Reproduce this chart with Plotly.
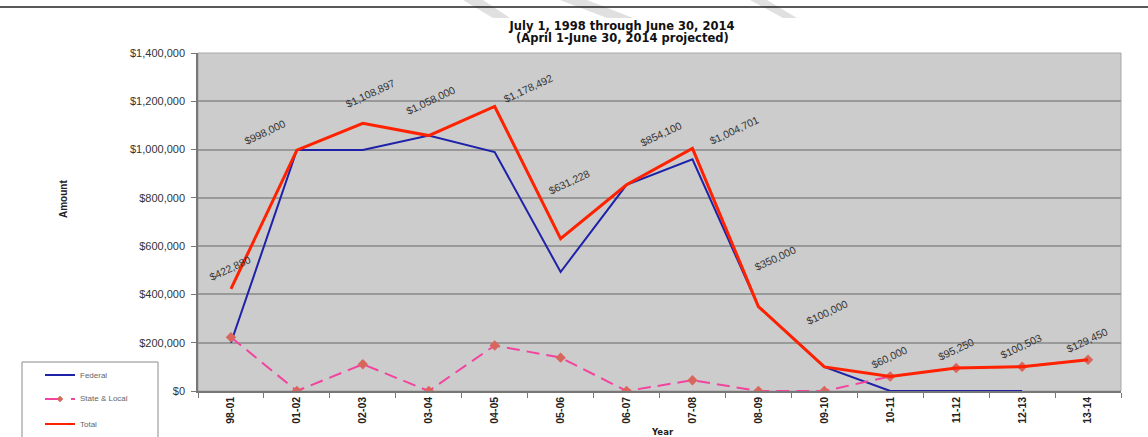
import plotly.graph_objects as go

# ---------------- data ----------------
categories = ["98-01", "01-02", "02-03", "03-04", "04-05", "05-06", "06-07",
              "07-08", "08-09", "09-10", "10-11", "11-12", "12-13", "13-14"]
federal = [200000, 998000, 998000, 1058000, 990000, 493000, 854100,
           960000, 350000, 100000, 0, 0, 0, None]
state_local = [222880, 0, 110897, 0, 188492, 138228, 0,
               44701, 0, 0, 60000, 95250, 100503, 129450]
total = [422880, 998000, 1108897, 1058000, 1178492, 631228, 854100,
         1004701, 350000, 100000, 60000, 95250, 100503, 129450]
y_ticks = [0, 200000, 400000, 600000, 800000, 1000000, 1200000, 1400000]
y_tick_text = [f"${v:,}" for v in y_ticks]
title_line1 = "July 1, 1998 through June 30, 2014"
title_line2 = "(April 1-June 30, 2014 projected)"

# ---------------- style ----------------
W, H = 1148, 437
ML, MR, MT, MB = 198, 27, 53, 46
PW, PH = W - ML - MR, H - MT - MB
FONT = "Liberation Sans, Arial, sans-serif"
WIDE = "DejaVu Sans, Liberation Sans, sans-serif"
BLUE = "#1E22A8"
RED = "#FF2200"
PINK = "#F2449E"
MARK = "#D8665C"

# label offsets (pixels) of the data labels relative to each Total point
label_dx = [-1, -32, 8, 2, 34, 8, 34, 42, 17, 3, -1, 0, -1, -1]
label_dy = [-21, -18, -30, -36, -18, -57, -51, -18, -49, -55, -20, -19, -21, -20]


def px_x(px):
    return (px - ML) / PW


def px_y(py):
    return (H - MB - py) / PH


fig = go.Figure()
fig.add_trace(go.Scatter(x=categories, y=federal, mode="lines", name="Federal",
                         line=dict(color=BLUE, width=2), showlegend=False))
fig.add_trace(go.Scatter(x=categories, y=state_local, mode="lines+markers",
                         name="State & Local",
                         line=dict(color=PINK, width=2, dash="13px,7px"),
                         marker=dict(symbol="diamond", size=8, color=MARK),
                         showlegend=False))
fig.add_trace(go.Scatter(x=categories, y=total, mode="lines", name="Total",
                         line=dict(color=RED, width=3), showlegend=False))

annotations = []
for c, v, dx, dy in zip(categories, total, label_dx, label_dy):
    annotations.append(dict(x=c, y=v, xref="x", yref="y", text=f"${v:,}",
                            showarrow=False, textangle=-25, xshift=dx, yshift=-dy,
                            xanchor="center", yanchor="middle",
                            font=dict(family=FONT, size=10.5, color="#333333")))

# second title line
annotations.append(dict(x=px_x(622), y=px_y(38), xref="paper", yref="paper",
                        text=f"<b>{title_line2}</b>", showarrow=False,
                        xanchor="center", yanchor="middle",
                        font=dict(family=WIDE, size=11.5, color="#111111")))

# axis titles
annotations.append(dict(x=px_x(63), y=px_y(199), xref="paper", yref="paper",
                        text="<b>Amount</b>", textangle=-90, showarrow=False,
                        xanchor="center", yanchor="middle",
                        font=dict(family=FONT, size=10, color="#222222")))
annotations.append(dict(x=px_x(662), y=px_y(432), xref="paper", yref="paper",
                        text="<b>Year</b>", showarrow=False,
                        xanchor="center", yanchor="middle",
                        font=dict(family=WIDE, size=8.5, color="#222222")))

# legend (manual, Excel style box at lower left)
shapes = []
shapes.append(dict(type="rect", xref="paper", yref="paper",
                   x0=px_x(22), x1=px_x(158), y0=px_y(362), y1=px_y(450),
                   line=dict(color="#8A8A8A", width=1), fillcolor="white", layer="above"))
leg_items = [("Federal", 375), ("State & Local", 399), ("Total", 424)]
shapes.append(dict(type="line", xref="paper", yref="paper", x0=px_x(45), x1=px_x(75),
                   y0=px_y(375), y1=px_y(375), line=dict(color=BLUE, width=2)))
shapes.append(dict(type="line", xref="paper", yref="paper", x0=px_x(45), x1=px_x(58),
                   y0=px_y(399), y1=px_y(399), line=dict(color=PINK, width=2)))
shapes.append(dict(type="line", xref="paper", yref="paper", x0=px_x(71), x1=px_x(75),
                   y0=px_y(399), y1=px_y(399), line=dict(color=PINK, width=2)))
dx0, dy0 = px_x(60), px_y(399)
sx, sy = 3 / PW, 3 / PH
shapes.append(dict(type="path", xref="paper", yref="paper",
                   path=f"M {dx0 - sx} {dy0} L {dx0} {dy0 + sy} L {dx0 + sx} {dy0} L {dx0} {dy0 - sy} Z",
                   fillcolor=MARK, line=dict(color=MARK, width=0.5)))
shapes.append(dict(type="line", xref="paper", yref="paper", x0=px_x(45), x1=px_x(75),
                   y0=px_y(424), y1=px_y(424), line=dict(color=RED, width=2)))
for name, yy in leg_items:
    annotations.append(dict(x=px_x(78), y=px_y(yy), xref="paper", yref="paper",
                            text=name, showarrow=False, xanchor="left", yanchor="middle",
                            font=dict(family=FONT, size=8, color="#666666")))

# faint diagonal watermark bands at the very top of the page
for (xt0, xt1, xb0, xb1) in [(463, 483, 493, 510), (560, 587, 607, 633), (750, 767, 783, 797)]:
    shapes.append(dict(type="path", xref="paper", yref="paper", layer="below",
                       path=(f"M {px_x(xt0)} {px_y(0)} L {px_x(xt1)} {px_y(0)} "
                             f"L {px_x(xb1)} {px_y(18)} L {px_x(xb0)} {px_y(18)} Z"),
                       fillcolor="#E0E0E0", line=dict(width=0)))

# page frame line at top
shapes.append(dict(type="line", xref="paper", yref="paper", x0=px_x(0), x1=px_x(W),
                   y0=px_y(7), y1=px_y(7), line=dict(color="#222222", width=1.5)))
# plot border (light)
shapes.append(dict(type="rect", xref="paper", yref="paper", x0=0, x1=1, y0=0, y1=1,
                   line=dict(color="#A8A8A8", width=1), layer="below"))

fig.update_layout(
    width=W, height=H,
    template="none",
    margin=dict(l=ML, r=MR, t=MT, b=MB, pad=0),
    paper_bgcolor="white",
    plot_bgcolor="#CCCCCC",
    showlegend=False,
    title=dict(text=f"<b>{title_line1}</b>",
               x=622 / W, xref="container", xanchor="center",
               y=1 - 26 / H, yref="container", yanchor="middle",
               font=dict(family=WIDE, size=11.5, color="#111111")),
    font=dict(family=FONT, color="#333333"),
    annotations=annotations,
    shapes=shapes,
    xaxis=dict(type="category", range=[-0.5, len(categories) - 0.5],
               tickson="boundaries", ticks="outside", ticklen=5, tickcolor="#777777",
               tickangle=-90, showgrid=False, showline=True, linecolor="#777777",
               linewidth=1.5, zeroline=False, automargin=False,
               tickfont=dict(family=FONT, size=10.5, color="#222222"),
               tickprefix="<b>", ticksuffix="</b>"),
    yaxis=dict(range=[0, 1400000], tickmode="array", tickvals=y_ticks,
               ticktext=y_tick_text, ticklabelstandoff=4,
               ticks="outside", ticklen=5, tickcolor="#777777",
               showgrid=True, gridcolor="#999999", gridwidth=1.5,
               showline=True, linecolor="#777777", linewidth=1.5, zeroline=False,
               automargin=False,
               tickfont=dict(family=FONT, size=11, color="#333333")),
)

fig.write_html("out.html", config={"displayModeBar": False},
               post_script="document.body.style.margin='0px';")
